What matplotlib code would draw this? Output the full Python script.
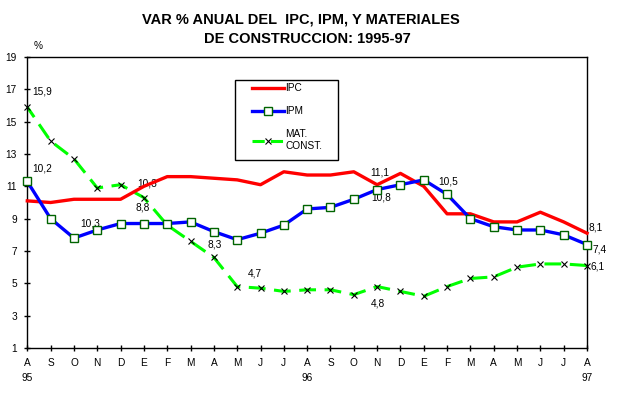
import matplotlib
matplotlib.use("Agg")
import matplotlib.pyplot as plt
from matplotlib.patches import Rectangle
from matplotlib.lines import Line2D
import matplotlib.transforms as mtransforms

plt.rcParams['font.family'] = ['Liberation Sans', 'DejaVu Sans']

# meses de agosto 1995 a agosto 1997
meses = ["A", "S", "O", "N", "D", "E", "F", "M", "A", "M", "J", "J", "A",
         "S", "O", "N", "D", "E", "F", "M", "A", "M", "J", "J", "A"]
anios = {0: "95", 12: "96", 24: "97"}

ipc = [10.1, 10.0, 10.2, 10.2, 10.2, 11.0, 11.6, 11.6, 11.5, 11.4, 11.1, 11.9, 11.7,
       11.7, 11.9, 11.1, 11.8, 11.0, 9.3, 9.3, 8.8, 8.8, 9.4, 8.8, 8.1]
ipm = [11.3, 9.0, 7.8, 8.3, 8.7, 8.7, 8.7, 8.8, 8.2, 7.7, 8.1, 8.6, 9.6,
       9.7, 10.2, 10.8, 11.1, 11.4, 10.5, 9.0, 8.5, 8.3, 8.3, 8.0, 7.4]
mat = [15.9, 13.8, 12.7, 10.9, 11.1, 10.3, 8.6, 7.6, 6.6, 4.8, 4.7, 4.5, 4.6,
       4.6, 4.3, 4.8, 4.5, 4.2, 4.8, 5.3, 5.4, 6.0, 6.2, 6.2, 6.1]

# etiquetas de datos (texto, x, y)
etiquetas = [("15,9", 0.2, 16.85), ("10,2", 0.2, 12.13), ("10,3", 4.71, 11.2),
             ("8,8", 4.66, 9.72), ("10,3", 2.26, 8.73), ("8,3", 7.71, 7.43),
             ("4,7", 9.47, 5.58), ("11,1", 14.7, 11.88), ("10,8", 14.75, 10.34),
             ("10,5", 17.63, 11.27), ("8,1", 24.06, 8.48), ("7,4", 24.23, 7.12),
             ("6,1", 24.15, 6.07), ("4,8", 14.75, 3.78)]

W, H = 633, 395
fig = plt.figure(figsize=(W / 100, H / 100), dpi=100)
ax = fig.add_axes([27.3 / W, 1 - 348 / H, (587 - 27.3) / W, (348 - 57) / H])

x = list(range(len(meses)))
ax.plot(x, ipc, color="#ff0000", lw=2.4, clip_on=False, zorder=3)
ax.plot(x, ipm, color="#0000ff", lw=2.4, marker="s", markersize=5.5,
        markerfacecolor="white", markeredgecolor="#006400", markeredgewidth=1,
        clip_on=False, zorder=4)
ax.plot(x, mat, color="#00ff00", lw=2.2, linestyle=(1.5, (5.5, 2.8)),
        marker="x", markersize=4.5, markeredgecolor="black", markeredgewidth=0.8,
        clip_on=False, zorder=2)

for t, tx, ty in etiquetas:
    ax.text(tx, ty, t, fontsize=7.3, ha="left", va="center", zorder=1)

ax.set_xlim(0, 24)
ax.set_ylim(1, 19)
ax.set_yticks(range(1, 20, 2))
ax.set_xticks(x)
ax.set_xticklabels(meses)
ax.tick_params(direction="inout", length=5, width=1, labelsize=7.3)
ax.tick_params(axis="x", pad=4.5)
ax.tick_params(axis="y", pad=5)
for s in ax.spines.values():
    s.set_linewidth(1)

trans = mtransforms.blended_transform_factory(ax.transData, fig.transFigure)
for i, a in anios.items():
    ax.text(i, 1 - 378 / H, a, transform=trans, fontsize=7.3, ha="center", va="center")

fig.text(38 / W, 1 - 46 / H, "%", fontsize=7.3, ha="center", va="center")

fig.text(301 / W, 1 - 19 / H, "VAR % ANUAL DEL  IPC, IPM, Y MATERIALES",
         fontsize=10.5, fontweight="bold", ha="center", va="center")
fig.text(307 / W, 1 - 39 / H, "DE CONSTRUCCION: 1995-97",
         fontsize=10.5, fontweight="bold", ha="center", va="center")

# cuadro de leyenda
fig.patches.append(Rectangle((235 / W, 1 - 160 / H), 103 / W, 80 / H,
                             transform=fig.transFigure, fill=False,
                             edgecolor="black", lw=1))
handles = [Line2D([], [], color="#ff0000", lw=2.4),
           Line2D([], [], color="#0000ff", lw=2.4, marker="s", markersize=5.5,
                  markerfacecolor="white", markeredgecolor="#006400"),
           Line2D([], [], color="#00ff00", lw=2.2, linestyle=(0, (4, 2)), marker="x",
                  markersize=4.5, markeredgecolor="black", markeredgewidth=0.8)]
fig.legend(handles, ["IPC", "IPM", "MAT.\nCONST."], loc="upper left",
           bbox_to_anchor=(244 / W, 1 - 75 / H), frameon=False, fontsize=7.3,
           handlelength=3.1, handletextpad=0.2, labelspacing=1.3, borderpad=0.3)

fig.savefig("out.png", dpi=100)
